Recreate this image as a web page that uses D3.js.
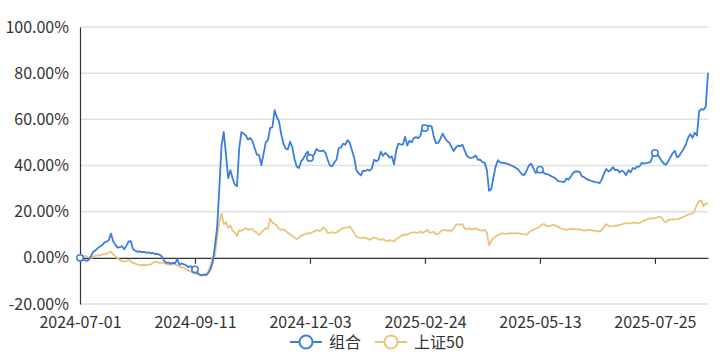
<!DOCTYPE html>
<html>
<head>
<meta charset="utf-8">
<script src="https://cdn.jsdelivr.net/npm/d3@7/dist/d3.min.js"></script>
<style>
  body { margin: 0; background: #fff; }
  text { font-family: "Noto Sans CJK SC", "Noto Sans", sans-serif; }
</style>
</head>
<body>
<div id="chart"></div>
<script>
// tick labels on the category axis (trading-day index -> date)
const xLabels = ["2024-07-01", "2024-09-11", "2024-12-03", "2025-02-24", "2025-05-13", "2025-07-25"];
const xLabelIdx = [0, 52, 104, 156, 208, 260];
const yTicks = [-20, 0, 20, 40, 60, 80, 100];
const seriesNames = ["组合", "上证50"];

// cumulative return, % (one value per trading day)
const portfolio = [
  0, -0.6, -1.0, -1.3, -0.8, 0.8, 2.7, 3.2, 4.2, 4.9,
  5.5, 6.6, 7.1, 7.6, 10.5, 7.2, 5.6, 4.4, 4.6, 5.0,
  3.7, 5.3, 7.1, 7.2, 3.7, 3.1, 2.6, 2.8, 2.5, 2.6,
  2.2, 2.4, 1.9, 2.1, 1.6, 1.8, 1.3, 0.6, -1.2, -2.2,
  -2.0, -2.5, -2.2, -2.4, -0.6, -3.0, -2.4, -2.8, -3.2, -4.0,
  -3.6, -4.4, -5.0, -6.4, -7.2, -7.6, -7.3, -7.5, -6.6, -5.0,
  -2.0, 5.0, 13.0, 30.0, 48.5, 54.5, 45.0, 34.5, 38.0, 34.5,
  31.8, 31.0, 47.5, 54.5, 53.8, 53.0, 51.2, 51.9, 50.5, 47.5,
  44.7, 44.5, 40.2, 45.0, 50.0, 51.0, 56.3, 56.5, 64.0, 61.0,
  59.1, 53.5, 49.5, 47.3, 47.0, 50.3, 48.0, 42.8, 39.6, 38.9,
  41.8, 43.0, 44.8, 46.0, 43.3, 43.6, 45.0, 47.2, 46.3, 46.2,
  46.5, 45.5, 42.5, 40.0, 39.6, 41.3, 42.5, 47.5, 47.8, 49.5,
  49.0, 51.0, 49.8, 46.5, 43.4, 38.0, 36.6, 35.7, 37.8, 37.6,
  38.2, 37.8, 38.8, 42.5, 41.8, 42.5, 46.0, 44.2, 45.4, 44.7,
  43.4, 44.0, 40.5, 46.5, 49.5, 49.2, 49.0, 52.5, 48.6, 50.8,
  50.0, 52.0, 52.3, 51.8, 53.0, 57.5, 56.2, 56.8, 57.3, 57.0,
  52.5, 49.7, 49.8, 51.6, 53.8, 52.0, 50.6, 49.9, 48.0, 46.3,
  47.8, 48.6, 48.3, 49.0, 46.3, 44.2, 43.4, 43.3, 43.6, 44.3,
  42.5, 42.5, 41.5, 41.2, 38.0, 29.0, 29.8, 35.0, 39.6, 42.3,
  41.3, 41.2, 41.0, 40.8, 40.5, 40.0, 39.6, 39.0, 38.4, 37.2,
  36.0, 36.0, 37.9, 40.0, 40.8, 38.9, 36.8, 37.2, 38.2, 37.6,
  36.6, 36.3, 36.0, 35.4, 35.0, 34.4, 33.4, 33.1, 33.0, 32.8,
  34.4, 33.9, 35.2, 36.8, 37.4, 37.5, 37.2, 35.3, 34.9, 34.2,
  33.8, 33.4, 33.1, 32.8, 32.7, 32.4, 34.0, 36.5, 38.5, 37.4,
  38.0, 39.3, 38.0, 38.2, 37.0, 37.8, 37.2, 35.8, 38.0, 37.0,
  38.9, 38.5, 39.6, 39.5, 41.1, 40.8, 41.0, 41.2, 41.5, 44.2,
  45.4, 45.0, 43.6, 42.0, 40.8, 40.3, 41.8, 43.5, 45.3, 46.4,
  43.5, 44.2, 45.7, 47.2, 49.2, 52.0, 53.6, 52.0, 54.2, 53.0,
  63.5, 64.4, 64.2, 65.6, 80.2
];

const sse50 = [
  0.3, 0.9, 0.7, 0.6, 0.2, -0.1, 0.4, 0.9, 1.0, 1.2,
  1.4, 1.6, 1.8, 2.3, 2.7, 1.5, 0.6, -0.2, -0.9, -1.3,
  -1.7, -1.4, -0.8, -1.6, -2.2, -2.5, -2.9, -3.3, -3.1, -3.0,
  -3.2, -3.0, -2.9, -2.1, -1.6, -1.8, -2.3, -2.1, -2.3, -2.6,
  -3.0, -2.9, -2.7, -2.9, -3.3, -3.7, -4.0, -4.4, -5.0, -5.4,
  -5.9, -6.5, -6.8, -7.1, -7.4, -7.6, -7.2, -7.0, -6.0, -3.0,
  0.3, 0.8, 8.5, 15.5, 19.2, 14.5, 15.5, 13.0, 14.0, 11.8,
  11.0, 9.4, 12.0, 11.7, 12.3, 12.9, 12.1, 12.4, 12.4, 11.5,
  10.8, 10.0, 10.9, 12.0, 12.8, 12.6, 17.0, 15.3, 14.6, 14.1,
  12.6, 12.1, 12.3, 11.6, 10.8, 10.2, 9.5, 8.8, 8.1, 8.8,
  9.4, 10.0, 10.4, 10.7, 10.6, 11.1, 11.5, 12.1, 11.6, 11.9,
  13.2, 12.4, 10.8, 10.7, 11.2, 10.8, 11.0, 11.7, 12.3, 12.9,
  13.0, 13.2, 13.6, 12.3, 10.8, 9.3, 8.8, 8.5, 8.9, 8.7,
  8.3, 7.8, 8.4, 8.9, 8.5, 8.1, 7.8, 8.1, 7.5, 7.1,
  7.7, 7.6, 7.1, 8.2, 8.8, 9.3, 9.9, 10.1, 10.0, 10.6,
  10.9, 11.1, 10.8, 10.9, 11.4, 10.8, 11.4, 12.1, 11.0, 10.9,
  11.3, 10.2, 10.5, 11.4, 12.0, 12.0, 11.8, 11.9, 11.6, 12.8,
  14.4, 14.5, 14.4, 14.6, 12.6, 12.5, 12.8, 12.2, 12.6, 12.7,
  12.2, 11.9, 11.8, 12.1, 10.9, 5.4, 7.4, 8.6, 9.3, 9.8,
  10.3, 10.7, 10.5, 10.4, 10.6, 10.7, 10.5, 10.7, 10.6, 10.5,
  10.3, 10.2, 10.0, 11.0, 11.6, 12.1, 12.6, 13.0, 13.6, 14.5,
  14.6, 13.6, 13.8, 14.0, 14.3, 14.0, 13.7, 12.9, 12.6, 12.3,
  12.1, 12.3, 12.5, 12.5, 12.4, 12.3, 12.3, 12.0, 11.8, 12.0,
  12.1, 12.0, 11.8, 11.8, 11.6, 11.4, 12.0, 13.3, 14.6, 13.8,
  13.6, 13.7, 13.9, 14.0, 14.3, 14.5, 14.8, 15.0, 14.8, 15.0,
  15.2, 15.3, 15.1, 15.0, 15.6, 16.1, 16.4, 16.9, 17.2, 17.1,
  17.2, 17.5, 17.9, 17.4, 16.0, 15.4, 16.3, 16.6, 16.8, 16.7,
  16.8, 17.0, 17.4, 17.7, 18.2, 18.7, 18.9, 19.2, 20.6, 23.0,
  24.6, 24.9, 22.3, 23.7, 23.4
];

const colors = ["#3b7de0", "#e9c57a"];

const width = 720, height = 360;
const margin = { top: 27, right: 12, bottom: 56, left: 80 };

const svg = d3.select("#chart").append("svg")
    .attr("width", width)
    .attr("height", height);

const x = d3.scaleLinear()
    .domain([0, portfolio.length - 1])
    .range([margin.left, width - margin.right]);

const y = d3.scaleLinear()
    .domain([-20, 100])
    .range([height - margin.bottom, margin.top]);

// grid lines
svg.append("g")
    .selectAll("line")
    .data(yTicks.filter(d => d !== 0))
    .enter()
    .append("line")
    .attr("x1", margin.left)
    .attr("x2", width - margin.right)
    .attr("y1", d => y(d))
    .attr("y2", d => y(d))
    .attr("stroke", "#e0e0e0")
    .attr("stroke-width", 1.5);

// y axis labels
const yAxis = d3.axisLeft(y)
    .tickValues(yTicks)
    .tickSize(0)
    .tickPadding(11)
    .tickFormat(d => d.toFixed(2) + "%");

svg.append("g")
    .attr("transform", `translate(${margin.left},0)`)
    .call(yAxis)
    .call(g => g.select(".domain").attr("stroke", "#333").attr("stroke-width", 1.2))
    .call(g => g.selectAll("text")
        .attr("font-size", "16px")
        .attr("fill", "#333")
        .style("font-family", "'Noto Sans CJK SC', sans-serif"));

// x axis sits on the zero line
const xAxis = d3.axisBottom(x)
    .tickValues(xLabelIdx)
    .tickSize(6)
    .tickSizeOuter(0)
    .tickFormat((d, i) => xLabels[i]);

svg.append("g")
    .attr("transform", `translate(0,${y(0)})`)
    .call(xAxis)
    .call(g => g.select(".domain").attr("stroke", "#333").attr("stroke-width", 1.2))
    .call(g => g.selectAll(".tick line").attr("stroke", "#333").attr("stroke-width", 1.2))
    .call(g => g.selectAll("text")
        .attr("y", y(-20) - y(0) + 18)
        .attr("dy", "0.35em")
        .attr("font-size", "16px")
        .attr("fill", "#333")
        .style("font-family", "'Noto Sans CJK SC', sans-serif"));

// lines
const line = d3.line()
    .x((d, i) => x(i))
    .y(d => y(d));

[sse50, portfolio].forEach((series, k) => {
    svg.append("path")
        .datum(series)
        .attr("fill", "none")
        .attr("stroke", k === 0 ? colors[1] : colors[0])
        .attr("stroke-width", 1.8)
        .attr("stroke-linejoin", "round")
        .attr("d", line);
});

// hollow markers at label positions on the portfolio line
svg.append("g")
    .selectAll("circle")
    .data(xLabelIdx)
    .enter()
    .append("circle")
    .attr("cx", d => x(d))
    .attr("cy", d => y(portfolio[d]))
    .attr("r", 3.2)
    .attr("fill", "#fff")
    .attr("stroke", colors[0])
    .attr("stroke-width", 1.5);

// legend
const legend = svg.append("g").attr("transform", "translate(290,342)");
let offset = 0;
seriesNames.forEach((name, i) => {
    const item = legend.append("g").attr("transform", `translate(${offset},0)`);
    item.append("line")
        .attr("x1", 0).attr("x2", 32)
        .attr("stroke", colors[i])
        .attr("stroke-width", 2);
    item.append("circle")
        .attr("cx", 16).attr("r", 6.5)
        .attr("fill", "#fff")
        .attr("stroke", colors[i])
        .attr("stroke-width", 2);
    const t = item.append("text")
        .attr("x", 39)
        .attr("dy", "0.35em")
        .attr("font-size", "16px")
        .attr("fill", "#333")
        .text(name);
    offset += 39 + t.node().getComputedTextLength() + 14;
});
</script>
</body>
</html>
